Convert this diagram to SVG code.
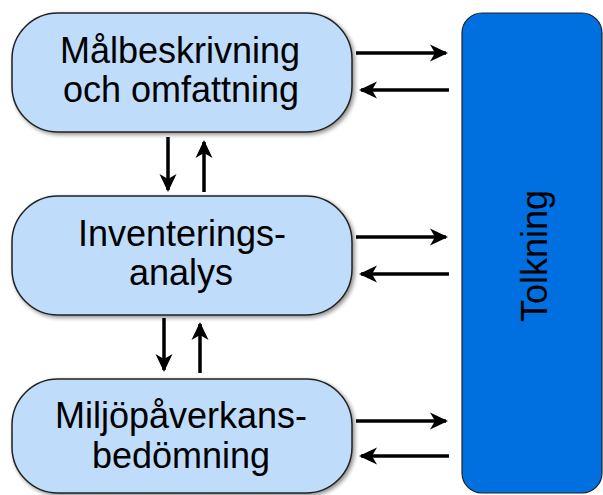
<svg xmlns="http://www.w3.org/2000/svg" width="603" height="495" viewBox="0 0 603 495">
<defs>
<style>
.box{fill:#bfdcfb;stroke:#222;stroke-width:1.5;filter:url(#sh)}
.big{fill:#006fdf;stroke:#222;stroke-width:1.2}
.t{font-family:"Liberation Sans",Arial,sans-serif;font-size:36px;fill:#000;text-anchor:middle}
.c{stroke:#000;stroke-width:3.5;fill:none;marker-end:url(#ah)}
</style>
<filter id="sh" x="-10%" y="-10%" width="130%" height="130%">
<feGaussianBlur in="SourceAlpha" stdDeviation="2"/>
<feOffset dx="2" dy="2" result="b"/>
<feComponentTransfer><feFuncA type="linear" slope="0.45"/></feComponentTransfer>
<feMerge><feMergeNode/><feMergeNode in="SourceGraphic"/></feMerge>
</filter>
<marker id="ah" markerUnits="userSpaceOnUse" markerWidth="24" markerHeight="24" viewBox="-19 -12 24 24" refX="0" refY="0" orient="auto">
<path d="M2,0 L-16,-8.5 L-11,0 L-16,8.5 Z" fill="#000"/>
</marker>
</defs>
<g id="n1">
<rect class="box" x="12" y="13" width="340" height="119" rx="46" ry="46"/>
<text class="t" x="180" y="63">Målbeskrivning</text>
<text class="t" x="181" y="102">och omfattning</text>
</g>
<g id="n2">
<rect class="box" x="12" y="196" width="340" height="119" rx="46" ry="46"/>
<text class="t" x="182" y="246">Inventerings-</text>
<text class="t" x="181" y="285">analys</text>
</g>
<g id="n3">
<rect class="box" x="12" y="379" width="340" height="114" rx="46" ry="46"/>
<text class="t" x="181" y="428">Miljöpåverkans-</text>
<text class="t" x="181" y="468">bedömning</text>
</g>
<g id="n4">
<rect class="big" x="462" y="13" width="140" height="480" rx="20" ry="20"/>
<text class="t" transform="translate(547 256) rotate(-90)">Tolkning</text>
</g>
<g id="connectors">
<line class="c" x1="356" y1="53" x2="446" y2="53"/>
<line class="c" x1="449" y1="90" x2="361" y2="90"/>
<line class="c" x1="356" y1="237" x2="446" y2="237"/>
<line class="c" x1="449" y1="274" x2="361" y2="274"/>
<line class="c" x1="356" y1="421" x2="446" y2="421"/>
<line class="c" x1="449" y1="456" x2="361" y2="456"/>
<line class="c" x1="168" y1="137" x2="168" y2="190"/>
<line class="c" x1="204" y1="192" x2="204" y2="142"/>
<line class="c" x1="164" y1="318" x2="164" y2="370"/>
<line class="c" x1="200" y1="373" x2="200" y2="324"/>
</g>
</svg>
